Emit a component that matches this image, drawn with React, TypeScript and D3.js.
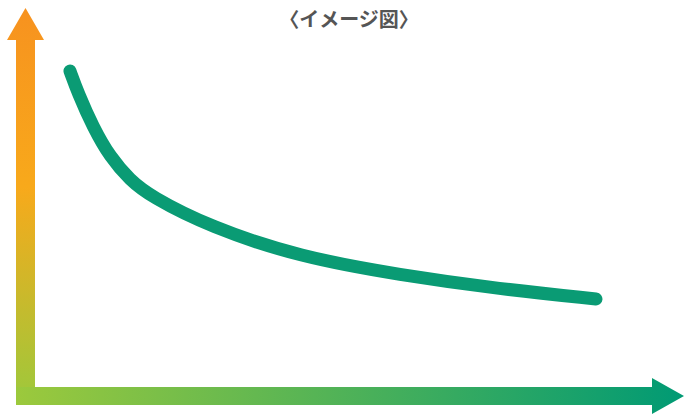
import React from "react";
import * as d3 from "d3";

const W = 685;
const H = 414;

// Curve readings (data units, 0-100 on both axes)
const curveX = [5.67, 6.97, 9.4, 12.16, 15.4, 18.64, 28.36, 42.95, 59.16, 75.36, 90.92];
const curveY = [91.07, 84.73, 74.93, 66.28, 59.65, 55.04, 46.11, 37.46, 32.28, 28.24, 25.36];

const title = "〈イメージ図〉";

export default function App() {
  const x = d3.scaleLinear().domain([0, 100]).range([35, 652]);
  const y = d3.scaleLinear().domain([0, 100]).range([387, 40]);

  const pts: [number, number][] = curveX.map((v, i) => [v, curveY[i]]);
  const line = d3
    .line<[number, number]>()
    .x((d) => x(d[0]))
    .y((d) => y(d[1]))
    .curve(d3.curveBasis);

  const yShaftL = 16, yShaftR = 35;
  const yCx = (yShaftL + yShaftR) / 2;
  const xShaftT = 387, xShaftB = 405;
  const xCy = (xShaftT + xShaftB) / 2;

  return (
    <svg
      width={W}
      height={H}
      style={{ position: "absolute", left: 0, top: 0, display: "block" }}
    >
      <defs>
        <linearGradient id="gy" gradientUnits="userSpaceOnUse" x1="0" y1="8" x2="0" y2={xShaftB}>
          <stop offset="0%" stopColor="#F7921F" />
          <stop offset="45%" stopColor="#F8A91B" />
          <stop offset="100%" stopColor="#9CC93C" />
        </linearGradient>
        <linearGradient id="gx" gradientUnits="userSpaceOnUse" x1={yShaftL} y1="0" x2="684" y2="0">
          <stop offset="0%" stopColor="#9CC93C" />
          <stop offset="100%" stopColor="#009A74" />
        </linearGradient>
      </defs>
      <rect width={W} height={H} fill="#fff" />
      <path
        d={`M${yShaftL},${xShaftB} L${yShaftL},40 L7,40 L${yCx},8 L44,40 L${yShaftR},40 L${yShaftR},${xShaftT} Z`}
        fill="url(#gy)"
      />
      <path
        d={`M${yShaftL},${xShaftT} L652,${xShaftT} L652,378 L684,${xCy} L652,414 L652,${xShaftB} L${yShaftL},${xShaftB} Z`}
        fill="url(#gx)"
      />
      <path
        d={line(pts) || ""}
        fill="none"
        stroke="#0A9B74"
        strokeWidth={13}
        strokeLinecap="round"
        strokeLinejoin="round"
      />
      <text
        x={349}
        y={27}
        textAnchor="middle"
        fontFamily="'Noto Sans CJK JP', 'Noto Sans', sans-serif"
        fontSize={20}
        fontWeight={700}
        fill="#555555"
      >
        {title}
      </text>
    </svg>
  );
}
